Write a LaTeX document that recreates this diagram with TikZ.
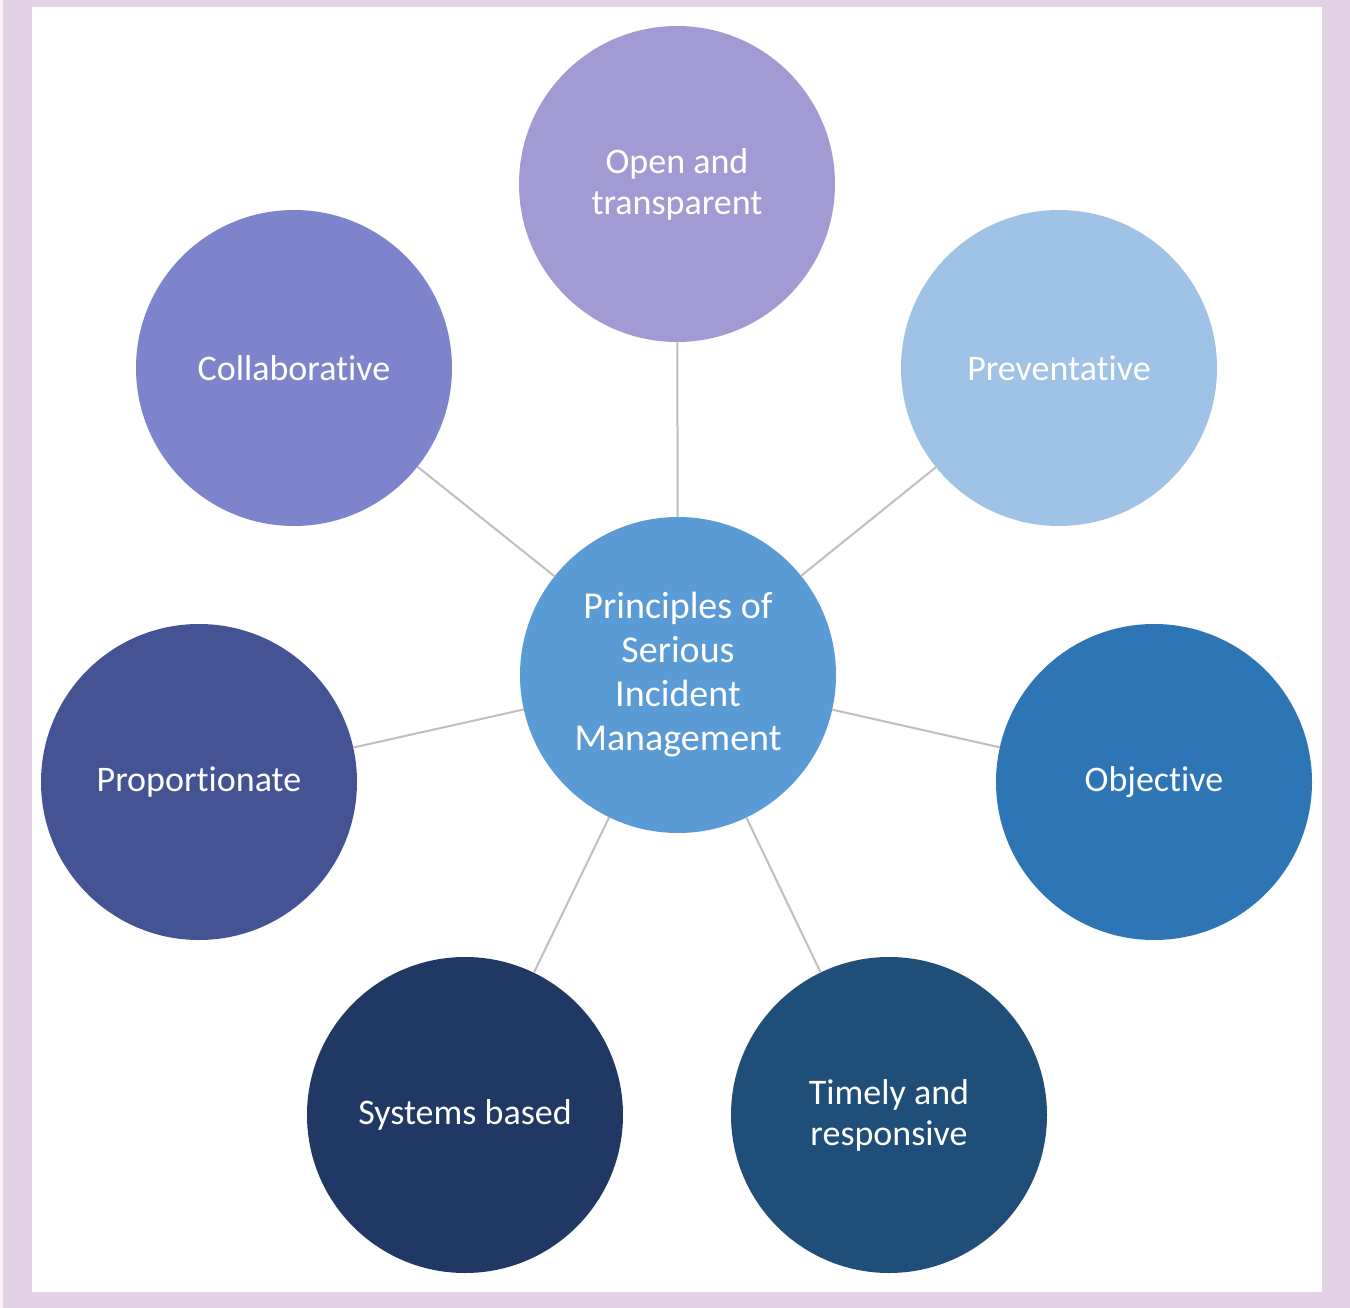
\documentclass[tikz,border=0pt]{standalone}
\usepackage{fontspec}
\setmainfont{Carlito}[Ligatures={NoCommon}, RawFeature=-liga, RawFeature=-calt, RawFeature=-clig, RawFeature=-dlig]
\definecolor{frame}{HTML}{E3D2E5}
\definecolor{cTop}{HTML}{A29BD3}
\definecolor{cCol}{HTML}{7E84CB}
\definecolor{cPre}{HTML}{9FC3E6}
\definecolor{cCen}{HTML}{5B9BD5}
\definecolor{cPro}{HTML}{445394}
\definecolor{cObj}{HTML}{2E75B6}
\definecolor{cSys}{HTML}{203864}
\definecolor{cTim}{HTML}{1F4E79}
\definecolor{link}{HTML}{BFBFBF}
\begin{document}
\begin{tikzpicture}[x=1pt,y=-1pt,
  bubble/.style={circle, minimum size=316pt, inner sep=0pt, outer sep=0pt,
    text=white, align=center, font=\fontsize{36}{41}\selectfont},
  hub/.style={bubble, font=\fontsize{38}{44}\selectfont},
  spoke/.style={draw=link, line width=2pt}]
\useasboundingbox (0,0) rectangle (1350,1308);
\fill[frame] (0,0) rectangle (1350,1308);
\fill[white!70!frame] (0,0) rectangle (3,1308);
\fill[white] (32,7) rectangle (1322,1292);
\node[hub, fill=cCen] (c) at (678,675) {Principles of\\Serious\\Incident\\Management};
\node[bubble, fill=cTop] (t) at (677,184) {Open and\\transparent};
\node[bubble, fill=cCol] (col) at (294,368) {Collaborat\kern0pt ive};
\node[bubble, fill=cPre] (pre) at (1059,368) {Preventat\kern0pt ive};
\node[bubble, fill=cPro] (pro) at (199,782) {Proportionate};
\node[bubble, fill=cObj] (obj) at (1154,782) {Object\kern0pt ive};
\node[bubble, fill=cSys] (sys) at (465,1115) {Systems based};
\node[bubble, fill=cTim] (tim) at (889,1115) {Timely and\\responsive};
\foreach \n in {t,col,pre,pro,obj,sys,tim} \draw[spoke] (c) -- (\n);
\end{tikzpicture}
\end{document}
